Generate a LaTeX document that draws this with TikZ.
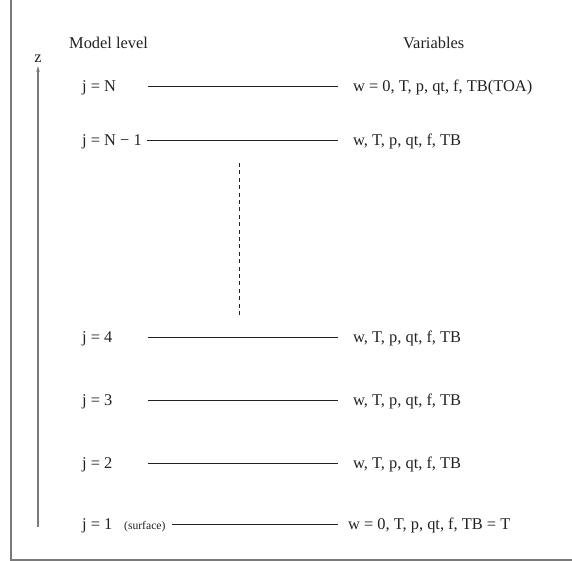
\documentclass[tikz,border=0pt]{standalone}
\usepackage{fontspec}
\setmainfont{Liberation Serif}
\usetikzlibrary{arrows.meta}
\definecolor{framegray}{HTML}{7A7A7A}
\definecolor{inkc}{HTML}{222222}
\tikzset{
  lbl/.style={anchor=base west, inner sep=0pt, text=inkc, font=\fontsize{16.4}{18}\selectfont},
  small/.style={anchor=base west, inner sep=0pt, text=inkc, font=\fontsize{11.6}{14}\selectfont},
  levelline/.style={draw=inkc, line width=0.8pt},
  framel/.style={draw=framegray, line width=1.6pt},
  zaxis/.style={draw=framegray, line width=1.4pt, -{Stealth[length=6pt,width=3.5pt]}},
  dots/.style={draw=inkc, line width=0.8pt, dash pattern=on 4pt off 3.4pt}
}
\begin{document}
\begin{tikzpicture}[x=1pt,y=-1pt]
\useasboundingbox (0,0) rectangle (572,561);
% frame
\coordinate (ftop) at (11,0);
\coordinate (fcorner) at (11,560);
\coordinate (fright) at (572,560);
\draw[framel] (ftop) -- (fcorner) -- (fright);
% z axis
\coordinate (zbot) at (38,527);
\coordinate (ztop) at (38,66);
\draw[zaxis] (zbot) -- (ztop);
\node[lbl, anchor=base] (z) at (38,62.5) {z};
% headers
\node[lbl] (hmodel) at (69,48.5) {Model level};
\node[lbl] (hvars) at (403,48.5) {Variables};
% level labels
\node[lbl] (jN) at (82,91.5) {j = N};
\node[lbl] (jN1) at (82,145.5) {j = N − 1};
\node[lbl] (j4) at (82,342.5) {j = 4};
\node[lbl] (j3) at (82,405.5) {j = 3};
\node[lbl] (j2) at (82,468.5) {j = 2};
\node[lbl] (j1) at (82,529.5) {j = 1};
\node[small] (surf) at (124,529.5) {(surface)};
% variable labels
\node[lbl] (vN) at (353,91.5) {w = 0, T, p, qt, f, TB(TOA)};
\node[lbl] (vN1) at (353,145.5) {w, T, p, qt, f, TB};
\node[lbl] (v4) at (353,342.5) {w, T, p, qt, f, TB};
\node[lbl] (v3) at (353,405.5) {w, T, p, qt, f, TB};
\node[lbl] (v2) at (353,468.5) {w, T, p, qt, f, TB};
\node[lbl] (v1) at (348,529.5) {w = 0, T, p, qt, f, TB = T};
% level lines
\coordinate (aN) at (148,86);  \coordinate (bN) at (338,86);
\coordinate (aN1) at (147,140); \coordinate (bN1) at (338,140);
\coordinate (a4) at (148,337); \coordinate (b4) at (338,337);
\coordinate (a3) at (148,400); \coordinate (b3) at (338,400);
\coordinate (a2) at (148,463); \coordinate (b2) at (338,463);
\coordinate (a1) at (172,524); \coordinate (b1) at (338,524);
\foreach \k in {N,N1,4,3,2,1}{\draw[levelline] (a\k) -- (b\k);}
% dashed continuation
\coordinate (dtop) at (239,163);
\coordinate (dbot) at (239,318);
\draw[dots] (dtop) -- (dbot);
\end{tikzpicture}
\end{document}
